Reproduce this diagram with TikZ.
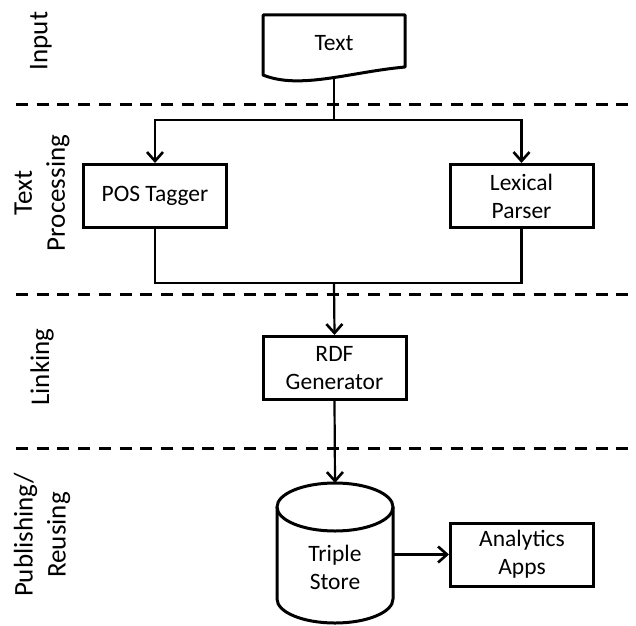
\documentclass[tikz,border=0pt]{standalone}
\usepackage{fontspec}
\setmainfont{Carlito}
\usetikzlibrary{arrows.meta}
\begin{document}
\begin{tikzpicture}[x=1pt,y=1pt,
  font=\fontsize{23.5}{28}\selectfont,
  box/.style={draw, line width=3pt, minimum width=143pt, minimum height=63pt, inner sep=0pt, align=center},
  conn/.style={line width=2.2pt},
  arr/.style={line width=2.2pt, -{Straight Barb[length=9pt,width=16pt,line width=2.6pt]}},
  sep/.style={line width=3pt, dash pattern=on 12pt off 8.7pt},
  lane/.style={rotate=90, align=center, inner sep=0pt, font=\fontsize{27}{33}\selectfont}]
\useasboundingbox (0,0) rectangle (636,625);
% separators
\draw[sep] (16,520) -- (632,520);
\draw[sep] (16,331) -- (632,331);
\draw[sep] (16,177) -- (632,177);
% lane labels
\node[lane] (lin) at (41,584) {Input};
\node[lane] (ltp) at (42,432) {Text\\Processing};
\node[lane] (llk) at (42,258) {Linking};
\node[lane] (lpr) at (42,90) {Publishing/\\Reusing};
% document
\draw[line width=3pt, line join=round] (263,550) -- (263,610) -- (405,610) -- (405,558)
  .. controls (350,553) and (300,535) .. (263,550) -- cycle;
\node (doc) at (334,582) {Text};
\coordinate (docb) at (334,547);
% boxes
\node[box] (pos) at (155,429) {POS Tagger};
\node[box] (lex) at (521.5,429) {Lexical\\Parser};
\node[box] (rdf) at (334.5,257) {RDF\\Generator};
\node[box] (apps) at (522,70.5) {Analytics\\Apps};
% cylinder
\draw[line width=3pt] (277,118) -- (277,26) arc[start angle=180,end angle=360,x radius=58,y radius=24] -- (393,118);
\draw[line width=3pt] (335,118) ellipse[x radius=58,y radius=24];
\node[align=center, minimum width=116pt, minimum height=140pt, inner sep=0pt] (store) at (335,72) {};
\node[align=center] (storetxt) at (335,58) {Triple\\Store};
\coordinate (storetop) at (335,142);
% connectors
\coordinate (split) at (334,505);
\coordinate (join) at (334,342);
\draw[conn] (docb) -- (split);
\draw[arr] (split) -| (pos.north);
\draw[arr] (split) -| (lex.north);
\draw[conn] (pos.south) |- (join);
\draw[conn] (lex.south) |- (join);
\draw[arr] (join) -- (rdf.north);
\draw[arr] (rdf.south) -- (storetop);
\draw[arr] (393,70.5) -- (apps.west);
\end{tikzpicture}
\end{document}
